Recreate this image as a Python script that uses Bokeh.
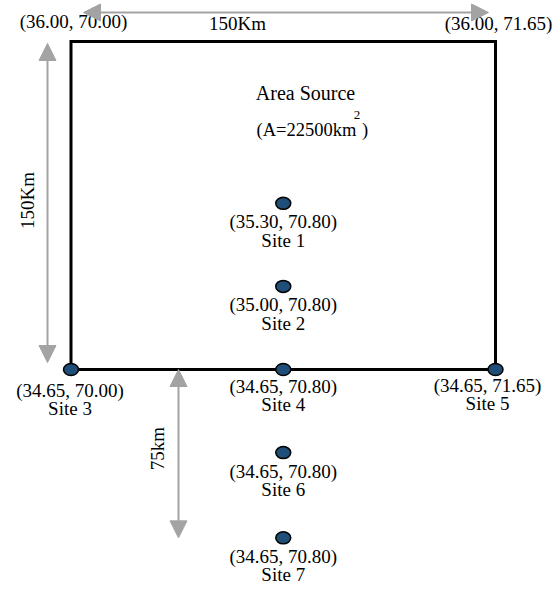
import math
from bokeh.plotting import figure
from bokeh.models import Range1d, Arrow, NormalHead, ColumnDataSource
from bokeh.core.properties import value
from bokeh.embed import file_html
from bokeh.resources import INLINE

# ---------------- data ----------------
site_names = ["Site 1", "Site 2", "Site 3", "Site 4", "Site 5", "Site 6", "Site 7"]
site_lat = [35.30, 35.00, 34.65, 34.65, 34.65, 34.65, 34.65]
site_lon = [70.80, 70.80, 70.00, 70.80, 71.65, 70.80, 70.80]
# position of each site relative to SW corner of the area source (km)
site_east_km = [75, 75, 0, 75, 150, 75, 75]
site_north_km = [76, 38, 0, 0, 0, -38, -77]

area_side_km = 150
area_lat = [34.65, 36.00]
area_lon = [70.00, 71.65]
area_km2 = 22500
offset_km = 75

# ---------------- layout ----------------
W, H = 559, 589
KX = 424.5 / 150.0          # px per km (x)
KY = 328.0 / 150.0          # px per km (y)
X0 = -70.5 / KX
X1 = X0 + W / KX
Y1 = area_side_km + 41.0 / KY
Y0 = Y1 - H / KY

def dx(px):
    return px / KX

def dy(px):
    return px / KY

FONT = value("Liberation Serif")
FS = "19px"
GRAY = "#a3a3a3"
DOT = "#1F4E79"

p = figure(width=W, height=H, output_backend="svg", toolbar_location=None,
           x_range=Range1d(X0, X1), y_range=Range1d(Y0, Y1),
           x_axis_location=None, y_axis_location=None, min_border=0,
           tools="")
p.grid.visible = False
p.outline_line_color = None
p.background_fill_color = "white"
p.border_fill_color = "white"

# area source square
S = area_side_km
p.patch([0, S, S, 0], [0, 0, S, S], fill_color=None, line_color="black",
        line_width=3, line_join="miter")

# dimension arrows
def darrow(xs, ys, xe, ye):
    p.add_layout(Arrow(
        start=NormalHead(size=17, fill_color=GRAY, line_color=GRAY, line_width=1),
        end=NormalHead(size=17, fill_color=GRAY, line_color=GRAY, line_width=1),
        x_start=xs, y_start=ys, x_end=xe, y_end=ye,
        line_color=GRAY, line_width=2))

top_y = S + dy(29)
darrow(dx(12.5), top_y, S - dx(7), top_y)
left_x = -dx(23.5)
darrow(left_x, S - dy(2), left_x, dy(7))
bot_x = dx(107.5)
darrow(bot_x, 0, bot_x, site_north_km[6])

# dimension labels
p.text(x=[dx(166.5)], y=[S + dy(18)], text=[f"{area_side_km}Km"],
       text_font=FONT, text_font_size=FS, text_align="center", text_baseline="middle")
p.text(x=[-dx(43.5)], y=[S / 2 + dy(5)], text=[f"{area_side_km}Km"], angle=math.pi / 2,
       text_font=FONT, text_font_size=FS, text_align="center", text_baseline="middle")
p.text(x=[bot_x - dx(21)], y=[-offset_km / 2 + dy(3)], text=[f"{offset_km}km"], angle=math.pi / 2,
       text_font=FONT, text_font_size=FS, text_align="center", text_baseline="middle")

# corner labels
p.text(x=[dx(2.5), S + dx(3)], y=[S + dy(20), S + dy(18)],
       text=[f"({area_lat[1]:.2f}, {area_lon[0]:.2f})", f"({area_lat[1]:.2f}, {area_lon[1]:.2f})"],
       text_font=FONT, text_font_size=FS, text_align="center", text_baseline="middle")

# area source label
p.text(x=[dx(234.5)], y=[S - dy(51)], text=["Area Source"],
       text_font=FONT, text_font_size="20px", text_align="center", text_baseline="middle")
p.text(x=[dx(185.5)], y=[S - dy(88)], text=[f"(A={area_km2}km"],
       text_font=FONT, text_font_size="18.5px", text_align="left", text_baseline="middle")
p.text(x=[dx(286)], y=[S - dy(73)], text=["2"],
       text_font=FONT, text_font_size="13px", text_align="center", text_baseline="middle")
p.text(x=[dx(291)], y=[S - dy(88)], text=[")"],
       text_font=FONT, text_font_size="18.5px", text_align="left", text_baseline="middle")

# sites
label_dx = [0, 0, -1, 0, -8, 0, 0]
label_dy = [0, 0, 2, -2, -3, 0, 0]
src = ColumnDataSource(dict(
    x=site_east_km, y=site_north_km,
    lx=[x + dx(d) for x, d in zip(site_east_km, label_dx)],
    cy=[y - dy(18.5 + d) for y, d in zip(site_north_km, label_dy)],
    ny=[y - dy(37 + d) for y, d in zip(site_north_km, label_dy)],
    coord=[f"({a:.2f}, {o:.2f})" for a, o in zip(site_lat, site_lon)],
    name=site_names,
))
p.ellipse(x="x", y="y", width=15, height=12, width_units="screen", height_units="screen",
          fill_color=DOT, line_color="black", line_width=1.5, source=src)
p.text(x="lx", y="cy", text="coord", source=src, text_font=FONT, text_font_size=FS,
       text_align="center", text_baseline="middle")
p.text(x="lx", y="ny", text="name", source=src, text_font=FONT, text_font_size=FS,
       text_align="center", text_baseline="middle")

open("out.html", "w").write(file_html(p, INLINE))
